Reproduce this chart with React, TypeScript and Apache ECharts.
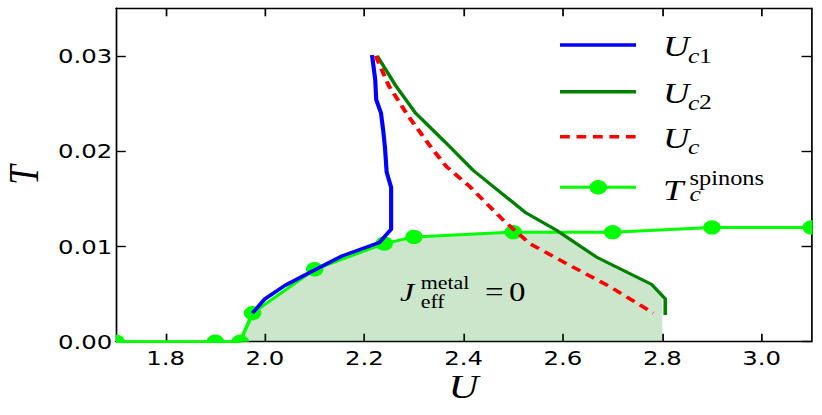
import React, { useEffect, useRef } from "react";
import * as echarts from "echarts";

// ---- data ----
const xTicks = [1.8, 2.0, 2.2, 2.4, 2.6, 2.8, 3.0];
const yTicks = [0.0, 0.01, 0.02, 0.03];

const spinonsU = [1.7, 1.9, 1.95, 1.975, 2.1, 2.24, 2.3, 2.5, 2.7, 2.9, 3.1];
const spinonsT = [0, 0, 0, 0.003, 0.0076, 0.0103, 0.011, 0.0115, 0.0115, 0.012, 0.012];

const uc1U = [1.975, 2.0, 2.04, 2.095, 2.155, 2.23, 2.254, 2.254, 2.245, 2.2416, 2.238, 2.2336, 2.224, 2.222, 2.2155];
const uc1T = [0.003, 0.0045, 0.0059, 0.0074, 0.009, 0.0104, 0.0118, 0.0162, 0.0178, 0.0204, 0.0222, 0.024, 0.0254, 0.0275, 0.0301];

const uc2U = [2.226, 2.263, 2.303, 2.362, 2.419, 2.526, 2.587, 2.667, 2.779, 2.806, 2.806];
const uc2T = [0.03, 0.0269, 0.024, 0.021, 0.018, 0.0135, 0.0117, 0.0089, 0.006, 0.0045, 0.0028];

const ucU = [2.223, 2.249, 2.287, 2.333, 2.365, 2.412, 2.479, 2.533, 2.607, 2.694, 2.782];
const ucT = [0.03, 0.0269, 0.0238, 0.0205, 0.0184, 0.0163, 0.0128, 0.0103, 0.0082, 0.0058, 0.003];

const fillU = [1.958, 1.975, 2.1, 2.24, 2.3, 2.5, 2.587, 2.667, 2.779, 2.8, 2.8];
const fillT = [0, 0.003, 0.0076, 0.0103, 0.011, 0.0115, 0.0116, 0.0089, 0.006, 0.0046, 0];

const zip = (a: number[], b: number[]) => a.map((v, i) => [v, b[i]]);

// horizontal stretch of the reference picture
const S = 1.22;
const W = 822 / S;
const X = (x: number) => x / S;

export default function App() {
  const ref = useRef<HTMLDivElement>(null);
  useEffect(() => {
    if (!ref.current) return;
    const chart = echarts.init(ref.current, undefined, { renderer: "svg" });
    const axisLine = { show: true, onZero: false, lineStyle: { color: "#000", width: 1.4 } };
    const tick = (vals: number[]) => ({
      show: true,
      inside: true,
      length: 8,
      customValues: vals,
      lineStyle: { color: "#000", width: 1.4 },
    });
    const labelStyle = { fontFamily: "DejaVu Sans", fontSize: 20, color: "#000" };
    const serif = "Liberation Serif";
    const txt = (x: number, y: number, text: string, size: number, italic: boolean, extra: any = {}) => ({
      type: "text",
      x,
      y,
      z: 100,
      style: {
        text,
        fontFamily: serif,
        fontSize: size,
        fontStyle: italic ? "italic" : "normal",
        lineHeight: Math.round(size * 0.75),
        fill: "#000",
        align: "left",
        verticalAlign: "middle",
        ...extra,
      },
    });
    const lg = (y: number, color: string, width: number, dash?: number[]) => ({
      type: "line",
      z: 100,
      shape: { x1: X(560), y1: y, x2: X(636), y2: y },
      style: { stroke: color, lineWidth: width, lineDash: dash || null },
    });

    chart.setOption({
      animation: false,
      grid: {
        left: X(116),
        right: W - X(811),
        top: 8.3,
        bottom: 415 - 341.7,
        containLabel: false,
        outerBoundsMode: "none",
      },
      xAxis: [
        {
          type: "value",
          min: 1.7,
          max: 3.1,
          position: "bottom",
          axisLine,
          axisTick: tick(xTicks),
          splitLine: { show: false },
          axisLabel: {
            customValues: xTicks,
            margin: 6,
            formatter: (v: number) => v.toFixed(1),
            ...labelStyle,
          },
        },
        {
          type: "value",
          min: 1.7,
          max: 3.1,
          position: "top",
          axisLine,
          axisTick: tick(xTicks),
          splitLine: { show: false },
          axisLabel: { show: false },
        },
      ],
      yAxis: [
        {
          type: "value",
          min: 0,
          max: 0.035,
          position: "left",
          name: "T",
          nameLocation: "middle",
          nameRotate: 90,
          nameGap: 56,
          nameTextStyle: { fontFamily: serif, fontStyle: "italic", fontSize: 35, color: "#000" },
          axisLine,
          axisTick: tick(yTicks),
          splitLine: { show: false },
          axisLabel: {
            customValues: yTicks,
            margin: 3,
            formatter: (v: number) => v.toFixed(2),
            ...labelStyle,
          },
        },
        {
          type: "value",
          min: 0,
          max: 0.035,
          position: "right",
          axisLine,
          axisTick: tick(yTicks),
          splitLine: { show: false },
          axisLabel: { show: false },
        },
      ],
      series: [
        {
          name: "fill",
          type: "line",
          data: zip(fillU, fillT),
          symbol: "none",
          lineStyle: { width: 0, opacity: 0 },
          areaStyle: { color: "rgba(0,128,0,0.2)", opacity: 1 },
          z: 1,
        },
        {
          name: "Tc spinons",
          type: "line",
          data: zip(spinonsU, spinonsT),
          symbol: "none",
          lineStyle: { color: "#00ff00", width: 3 },
          z: 2,
        },
        {
          name: "Tc markers",
          type: "custom",
          data: zip(spinonsU, spinonsT),
          clip: true,
          z: 2,
          encode: { x: 0, y: 1 },
          renderItem: (params: any, api: any) => {
            const p = api.coord([api.value(0), api.value(1)]);
            return {
              type: "circle",
              shape: { cx: p[0], cy: p[1], r: 7.2 },
              style: { fill: "#00ff00" },
            };
          },
        },
        {
          name: "Uc1",
          type: "line",
          data: zip(uc1U, uc1T),
          symbol: "none",
          lineStyle: { color: "#0000ff", width: 3.4 },
          z: 3,
        },
        {
          name: "Uc2",
          type: "line",
          data: zip(uc2U, uc2T),
          symbol: "none",
          lineStyle: { color: "#008000", width: 3 },
          z: 3,
        },
        {
          name: "Uc",
          type: "line",
          data: zip(ucU, ucT),
          symbol: "none",
          lineStyle: { color: "#ff0000", width: 3.4, type: [8, 5.5] },
          z: 3,
        },
      ],
      graphic: [
        // x axis title
        txt(X(463.5), 386.7, "U", 34, true, { align: "center" }),
        // legend
        lg(45, "#0000ff", 3.5),
        lg(91.7, "#008000", 3.5),
        lg(136.7, "#ff0000", 3.5, [8, 5.5]),
        lg(187.3, "#00ff00", 3),
        {
          type: "circle",
          z: 101,
          shape: { cx: X(598.3), cy: 187.3, r: 7.2 },
          style: { fill: "#00ff00" },
        },
        txt(X(663), 46, "U", 30, true),
        txt(X(688), 56, "c", 21, true),
        txt(X(688) + 9, 55.5, "1", 21, false),
        txt(X(663), 92.5, "U", 30, true),
        txt(X(688), 102.5, "c", 21, true),
        txt(X(688) + 9, 102, "2", 21, false),
        txt(X(663), 137.5, "U", 30, true),
        txt(X(688), 147, "c", 21, true),
        txt(X(663), 189.7, "T", 30, true),
        {
          type: "text",
          x: X(689.5),
          y: 186.5,
          z: 100,
          style: {
            text: "{a|spinons}\n{b|c}",
            align: "left",
            verticalAlign: "middle",
            fill: "#000",
            rich: {
              a: { fontFamily: serif, fontSize: 20, lineHeight: 15.5, fill: "#000" },
              b: { fontFamily: serif, fontSize: 21, fontStyle: "italic", lineHeight: 15.5, fill: "#000" },
            },
          },
        },
        // annotation
        txt(X(400), 292, "J", 26, true),
        txt(X(420.7), 283, "metal", 18, false),
        txt(X(420.7), 302, "eff", 18, false),
        txt(X(485), 292.5, "=", 27, false),
        txt(X(509), 292.5, "0", 27, false),
      ],
    });
    return () => chart.dispose();
  }, []);

  return (
    <div style={{ position: "fixed", left: 0, top: 0, width: 822, height: 415, overflow: "hidden", background: "#fff" }}>
      <div
        ref={ref}
        style={{ width: W, height: 415, transform: `scaleX(${S})`, transformOrigin: "0 0" }}
      />
    </div>
  );
}
